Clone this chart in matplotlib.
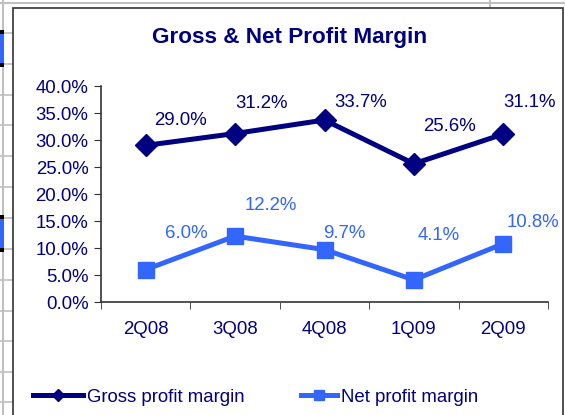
import matplotlib.pyplot as plt
from matplotlib.lines import Line2D
from matplotlib.patches import Rectangle

plt.rcParams['font.family'] = ['Liberation Sans', 'DejaVu Sans']

quarters = ['2Q08', '3Q08', '4Q08', '1Q09', '2Q09']
gross_margin = [29.0, 31.2, 33.7, 25.6, 31.1]
net_margin = [6.0, 12.2, 9.7, 4.1, 10.8]
y_ticks = [0, 5, 10, 15, 20, 25, 30, 35, 40]

# label offsets in pixels (dx right, dy down) as seen on the chart
gross_offsets = [(35, -25), (26, -30), (36, -18), (36, -37), (26, -32)]
net_offsets = [(41, -36), (36, -31), (20, -16), (25, -44), (30, -21)]

navy = '#000080'
light = '#3366FF'
W, H = 565, 415
fs = 13.4

fig = plt.figure(figsize=(W / 100, H / 100), dpi=100)
fig.patch.set_facecolor('white')

# spreadsheet background outside the chart object
for y in [3, 33, 64, 95, 125, 156, 187, 218, 249, 280, 311, 341, 372, 402]:
    fig.add_artist(Line2D([0, 13 / W], [1 - y / H, 1 - y / H], color='#c0c0c0', lw=1.2, zorder=-3))
fig.add_artist(Line2D([0, 1], [1 - 3 / H, 1 - 3 / H], color='#c0c0c0', lw=1.5, zorder=-3))
fig.add_artist(Line2D([3 / W, 3 / W], [0, 1], color='#c0c0c0', lw=1.5, zorder=-3))
fig.add_artist(Line2D([490 / W, 490 / W], [1 - 8 / H, 1], color='#c0c0c0', lw=1.5, zorder=-3))
for y0, y1 in [(32, 65), (217, 250)]:
    fig.add_artist(Rectangle((0, 1 - y1 / H), 4 / W, (y1 - y0) / H,
                             facecolor='#3366FF', edgecolor='none', zorder=-2))
    for yy in (y0, y1):
        fig.add_artist(Rectangle((0, 1 - (yy + 2) / H), 4 / W, 4 / H,
                                 facecolor='black', edgecolor='none', zorder=-2))
# chart border
fig.add_artist(Rectangle((13 / W, -0.01), (563 - 13) / W, 1.01 - 8 / H,
                         facecolor='white', edgecolor='#333333', lw=1.2, zorder=-1))

ax = fig.add_axes([101 / W, 1 - 302 / H, 447 / W, 216 / H])
ax.set_facecolor('none')
x = range(len(quarters))

gross_line, = ax.plot(x, gross_margin, color=navy, lw=3.6, marker='D', ms=11.5)
net_line, = ax.plot(x, net_margin, color=light, lw=3.6, marker='s', ms=12)

for i, v in enumerate(gross_margin):
    ax.annotate(f'{v:.1f}%', (i, v), xytext=(gross_offsets[i][0], -gross_offsets[i][1]),
                textcoords='offset pixels', ha='center', va='center', color=navy, fontsize=fs)
for i, v in enumerate(net_margin):
    ax.annotate(f'{v:.1f}%', (i, v), xytext=(net_offsets[i][0], -net_offsets[i][1]),
                textcoords='offset pixels', ha='center', va='center', color=light, fontsize=fs)

ax.set_xlim(-0.5, len(quarters) - 0.5)
ax.set_ylim(0, 40)
ax.set_yticks(y_ticks)
ax.set_yticklabels([f'{t:.1f}%' for t in y_ticks])
ax.set_xticks(x)
ax.set_xticklabels(quarters)
ax.set_xticks([i - 0.5 for i in range(len(quarters) + 1)], minor=True)
ax.tick_params(axis='x', which='major', length=0, pad=14, colors=navy, labelsize=fs)
ax.tick_params(axis='x', which='minor', length=5, direction='out', color='#333333')
ax.tick_params(axis='y', length=5, direction='out', color='#333333', labelcolor=navy,
               labelsize=fs, pad=4)
for s in ['top', 'right']:
    ax.spines[s].set_visible(False)
for s in ['left', 'bottom']:
    ax.spines[s].set_color('#333333')
    ax.spines[s].set_linewidth(1.2)

fig.text(290 / W, 1 - 38 / H, 'Gross & Net Profit Margin', ha='center', va='center',
         fontsize=16.2, fontweight='bold', color=navy)

leg1 = fig.legend([gross_line], ['Gross profit margin'], loc='center left',
                  bbox_to_anchor=(26 / W, 1 - 397 / H), frameon=False, fontsize=fs,
                  handlelength=2.65, handletextpad=0.25, markerscale=0.55, borderaxespad=0)
leg2 = fig.legend([net_line], ['Net profit margin'], loc='center left',
                  bbox_to_anchor=(294 / W, 1 - 397 / H), frameon=False, fontsize=fs,
                  handlelength=1.9, handletextpad=0.25, markerscale=0.55, borderaxespad=0)
for leg in (leg1, leg2):
    for t in leg.get_texts():
        t.set_color(navy)

fig.savefig('out.png', dpi=100)
